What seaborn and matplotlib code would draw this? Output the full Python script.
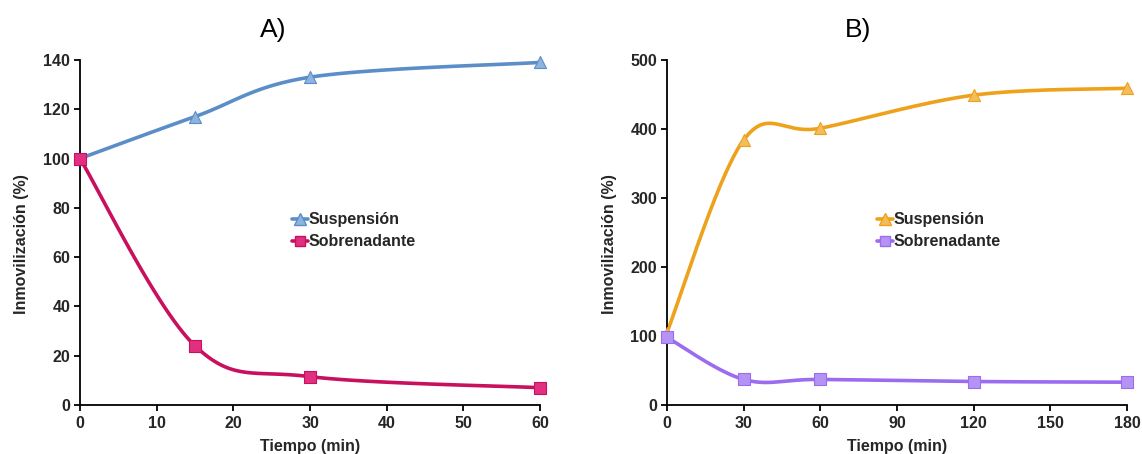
import numpy as np
import pandas as pd
import seaborn as sns
import matplotlib.pyplot as plt
from matplotlib.lines import Line2D

# ---------- datos ----------
t_a = [0, 15, 30, 60]
susp_a = [100, 117, 133, 139]
sobre_a = [100, 24, 11.5, 7]

t_b = [0, 30, 60, 120, 180]
susp_b = [105, 384, 401, 449, 459]
sobre_b = [98, 37, 37, 34, 33]

labels = ["Suspensión", "Sobrenadante"]

sns.set_theme(style="white")
plt.rcParams["font.family"] = ["Liberation Sans", "DejaVu Sans"]

FS = 11.5
TXT = "#262626"


def smooth(x, y, sx, sy, n=40):
    # curva suavizada tipo Excel (Bezier / Catmull-Rom) en escala de pantalla
    p = np.column_stack([np.asarray(x, float) * sx, np.asarray(y, float) * sy])
    pts = [p[0]] + list(p) + [p[-1]]
    out = []
    s = np.linspace(0, 1, n)[:, None]
    for i in range(1, len(pts) - 2):
        p0, p1, p2, p3 = pts[i - 1], pts[i], pts[i + 1], pts[i + 2]
        c1 = p1 + (p2 - p0) / 6
        c2 = p2 - (p3 - p1) / 6
        seg = ((1 - s) ** 3) * p1 + 3 * ((1 - s) ** 2) * s * c1 + 3 * (1 - s) * s ** 2 * c2 + s ** 3 * p2
        out.append(seg)
    out = np.vstack(out)
    return out[:, 0] / sx, out[:, 1] / sy


def panel(ax, t, s1, s2, c1, c2, fc1, fc2, xlim, ylim, xticks, yticks, title, title_x, leg_xy):
    w_px = ax.get_position().width * 1142
    h_px = ax.get_position().height * 454
    sx = w_px / (xlim[1] - xlim[0])
    sy = h_px / (ylim[1] - ylim[0])
    for vals, col, fc, mk, sz in [(s1, c1, fc1, "^", 75), (s2, c2, fc2, "s", 65)]:
        xs, ys = smooth(t, vals, sx, sy)
        ax.plot(xs, ys, color=col, lw=2.6, zorder=2)
        df = pd.DataFrame({"t": t, "v": vals})
        sns.scatterplot(data=df, x="t", y="v", ax=ax, marker=mk, s=sz,
                        color=fc, edgecolor=col, linewidth=0.8, zorder=3,
                        clip_on=False)
    ax.set_xlim(*xlim)
    ax.set_ylim(*ylim)
    ax.set_xticks(xticks)
    ax.set_yticks(yticks)
    for sp in ["top", "right"]:
        ax.spines[sp].set_visible(False)
    for sp in ["left", "bottom"]:
        ax.spines[sp].set_color("black")
        ax.spines[sp].set_linewidth(1.3)
    ax.tick_params(axis="both", direction="out", length=4, width=1.3,
                   color="black", labelsize=FS, labelcolor=TXT, pad=3,
                   left=True, bottom=True)
    ax.tick_params(axis="x", pad=4)
    for lab in ax.get_xticklabels() + ax.get_yticklabels():
        lab.set_fontweight("bold")
    ax.set_xlabel("Tiempo (min)", fontsize=FS, fontweight="bold", color=TXT, labelpad=6)
    ax.set_ylabel("Inmovilización (%)", fontsize=FS, fontweight="bold", color=TXT, labelpad=10)
    ax.yaxis.label.set_y(0.465)
    fig.text(title_x / 1142, 1 - 30 / 454, title, fontsize=19,
             ha="center", va="center", color="black")
    handles = [
        Line2D([], [], color=c1, lw=2.6, marker="^", markersize=8, markerfacecolor=fc1, markeredgecolor=c1),
        Line2D([], [], color=c2, lw=2.6, marker="s", markersize=7, markerfacecolor=fc2, markeredgecolor=c2),
    ]
    leg = ax.legend(handles, labels, loc="center left", bbox_to_anchor=leg_xy, frameon=False,
                    handlelength=1.0, handletextpad=0.05, labelspacing=0.45,
                    prop={"size": FS, "weight": "bold"})
    for txt in leg.get_texts():
        txt.set_color(TXT)


fig = plt.figure(figsize=(11.42, 4.54), dpi=100)
ax_a = fig.add_axes([0.070, 0.108, 0.403, 0.760])
ax_b = fig.add_axes([0.584, 0.108, 0.403, 0.760])

panel(ax_a, t_a, susp_a, sobre_a, "#5b8ec9", "#c8105f", "#8fb3df", "#e0307f",
      (0, 60), (0, 140), range(0, 61, 10), range(0, 141, 20), "A)", 273, (0.43, 0.505))
panel(ax_b, t_b, susp_b, sobre_b, "#eea21c", "#9b6cf0", "#f2bd5a", "#b593f5",
      (0, 180), (0, 500), range(0, 181, 30), range(0, 501, 100), "B)", 858, (0.425, 0.505))

fig.savefig("out.png", dpi=100, facecolor="white")
